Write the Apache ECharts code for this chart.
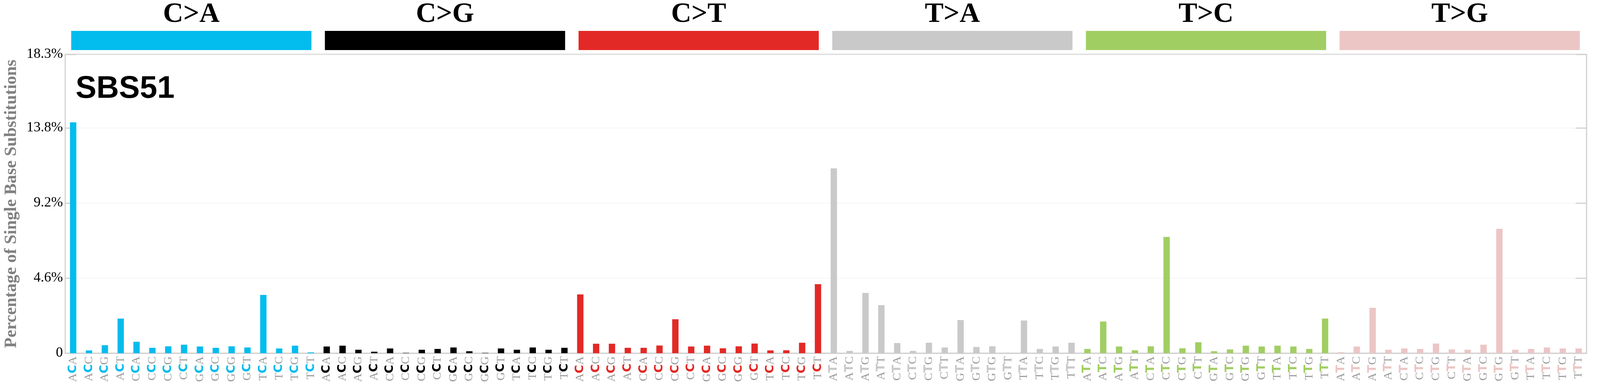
<!DOCTYPE html>
<html><head><meta charset="utf-8">
<script src="https://cdn.jsdelivr.net/npm/echarts@6/dist/echarts.min.js"></script>
<style>html,body{margin:0;padding:0;background:#fff;overflow:hidden}#c{width:100vw;height:100vh}</style>
</head><body><div id="c"></div>
<script>
const groups = ['C>A','C>G','C>T','T>A','T>C','T>G'];
const groupColors = ['#03BCEE','#000000','#E32926','#CAC9C9','#A1CE63','#EBC6C4'];
const contextsC = ['ACA','ACC','ACG','ACT','CCA','CCC','CCG','CCT','GCA','GCC','GCG','GCT','TCA','TCC','TCG','TCT'];
const contextsT = ['ATA','ATC','ATG','ATT','CTA','CTC','CTG','CTT','GTA','GTC','GTG','GTT','TTA','TTC','TTG','TTT'];
const valCA = [14.14,0.17,0.49,2.12,0.70,0.33,0.42,0.52,0.41,0.33,0.42,0.35,3.57,0.29,0.46,0.05];
const valCG = [0.41,0.46,0.21,0.09,0.29,0.02,0.21,0.26,0.35,0.12,0.02,0.29,0.21,0.35,0.21,0.33];
const valCT = [3.60,0.58,0.58,0.33,0.33,0.47,2.08,0.41,0.46,0.30,0.42,0.59,0.17,0.18,0.64,4.23];
const valTA = [11.32,0.14,3.69,2.94,0.62,0.14,0.64,0.35,2.03,0.38,0.42,0.02,2.00,0.26,0.41,0.64];
const valTC = [0.26,1.94,0.41,0.18,0.42,7.12,0.30,0.67,0.12,0.23,0.46,0.41,0.46,0.41,0.26,2.12];
const valTG = [0.06,0.41,2.78,0.21,0.29,0.26,0.59,0.23,0.21,0.52,7.62,0.21,0.26,0.35,0.29,0.29];
const yTicks = [0,4.6,9.2,13.8,18.3];
const signatureName = 'SBS51';
const yTitle = 'Percentage of Single Base Substitutions';

const allVals = [valCA,valCG,valCT,valTA,valTC,valTG];
const categories = [], data = [];
allVals.forEach((arr,g)=>{
  const ctx = g<3?contextsC:contextsT;
  arr.forEach((v,i)=>{categories.push(ctx[i]); data.push({value:v,itemStyle:{color:groupColors[g]}});});
});
const rich = {o:{fontFamily:'Liberation Serif',fontSize:30,color:'#9a9a9a'}};
groupColors.forEach((c,g)=>{rich['m'+g]={fontFamily:'DejaVu Sans',fontWeight:'bold',fontSize:30,color:c};});

const chart = echarts.init(document.getElementById('c'));
chart.setOption({
  animation:false,
  grid:[
    {left:'4.03%',right:'0.84%',top:139,bottom:89,show:true,borderColor:'#d2d2d2',borderWidth:3},
    {left:'4.03%',right:'0.84%',top:79,height:49}
  ],
  title:{text:signatureName,left:'4.6%',top:183,textStyle:{fontFamily:'Liberation Sans',fontWeight:'bold',fontSize:80,color:'#000'}},
  xAxis:[
    {type:'category',gridIndex:0,data:categories,axisTick:{show:false},
     axisLine:{lineStyle:{color:'#d2d2d2',width:3}},
     axisLabel:{interval:0,rotate:90,margin:8,rich:rich,
       formatter:(v,i)=>{const g=Math.floor(i/16);return '{o|'+v[0]+'}{m'+g+'|'+v[1]+'}{o|'+v[2]+'}';}}},
    {type:'category',gridIndex:1,data:groups,show:false}
  ],
  yAxis:[
    {type:'value',gridIndex:0,min:0,max:yTicks[4],interval:yTicks[1],
     name:yTitle,nameLocation:'middle',nameGap:115,
     nameTextStyle:{fontFamily:'Liberation Serif',fontWeight:'bold',fontSize:44,color:'#808080'},
     axisLine:{show:false},
     axisTick:{show:true,inside:true,length:28,lineStyle:{color:'#d2d2d2',width:3}},
     splitLine:{lineStyle:{color:'#ececec',width:1}},
     axisLabel:{showMaxLabel:true,fontFamily:'Liberation Sans Narrow',fontSize:36,color:'#000',margin:6,
       formatter:v=>v===0?'0':v.toFixed(1)+'%'}},
    {type:'value',gridIndex:0,position:'right',min:0,max:yTicks[4],interval:yTicks[1],
     axisLine:{show:false},axisLabel:{show:false},splitLine:{show:false},
     axisTick:{show:true,inside:true,length:28,lineStyle:{color:'#d2d2d2',width:3}}},
    {type:'value',gridIndex:1,min:0,max:1,show:false}
  ],
  series:[
    {type:'bar',xAxisIndex:0,yAxisIndex:0,data:data,barWidth:'40%'},
    {type:'bar',xAxisIndex:1,yAxisIndex:2,barWidth:'94.7%',
     data:groups.map((g,i)=>({value:1,itemStyle:{color:groupColors[i]}})),
     label:{show:true,position:'top',distance:6,formatter:p=>p.name,
       fontFamily:'Liberation Sans Narrow',fontWeight:'bold',fontSize:72,color:'#000'}}
  ]
});
</script></body></html>
